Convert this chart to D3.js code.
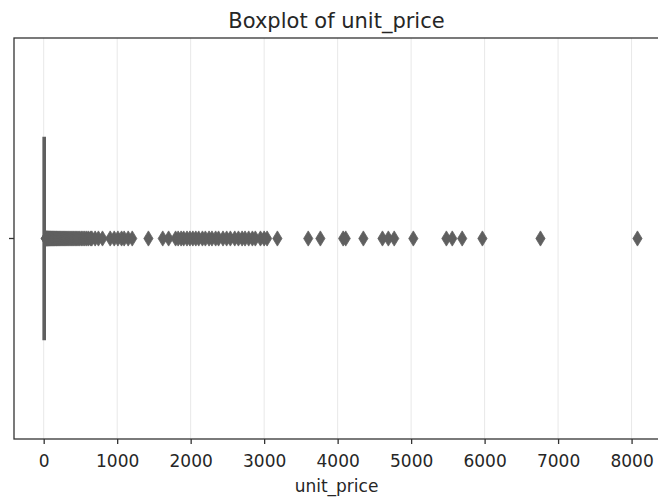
<!DOCTYPE html>
<html>
<head>
<meta charset="utf-8">
<script src="https://cdn.jsdelivr.net/npm/d3@7"></script>
<style>
  html, body { margin: 0; padding: 0; background: #ffffff; }
  svg { display: block; font-family: "DejaVu Sans", sans-serif; }
</style>
</head>
<body>
<svg id="chart" width="658" height="500"></svg>
<script>
// Single category on the y axis (no visible label)
const categories = [""];

// Box statistics of unit_price
const boxStats = { whiskerLow: 0.5, q1: 2.5, median: 4.5, q3: 11, whiskerHigh: 24 };

// Outliers beyond the upper whisker
const outliers = [
  28, 31, 35, 38, 42, 46, 50, 55, 60, 66, 72, 79, 85, 92, 99, 108, 115, 124, 132, 140,
  150, 160, 171, 180, 192, 205, 218, 230, 245, 260, 275, 290, 305, 322, 340, 358, 375,
  395, 412, 430, 450, 468, 490, 512, 535, 560, 585, 610, 640, 655,
  700, 745, 800, 905, 960, 1010, 1060, 1095, 1150, 1205,
  1425, 1620, 1700,
  1795, 1830, 1870, 1905, 1950, 1990, 2030, 2070, 2110, 2160, 2200, 2250, 2290, 2340,
  2380, 2440, 2490, 2540, 2600, 2650, 2700, 2740, 2790, 2840, 2880, 2950, 3000, 3040,
  3180, 3600, 3765, 4075, 4110, 4350, 4610, 4690, 4770, 5030,
  5480, 5560, 5695, 5970, 6760, 8080
];

// X axis ticks
const xTicks = [0, 1000, 2000, 3000, 4000, 5000, 6000, 7000, 8000];

const svg = d3.select("#chart");
const plotLeft = 14, plotRight = 667, plotTop = 38, plotBottom = 439;

const x = d3.scaleLinear().domain([-404, 8482]).range([plotLeft, plotRight]);
const y = d3.scaleBand().domain(categories).range([plotTop, plotBottom]).padding(0);

const boxColor = "#5f5f5f";
const textColor = "#262626";

svg.append("rect").attr("width", 658).attr("height", 500).attr("fill", "#ffffff");

// Vertical grid lines
svg.append("g")
  .selectAll("line")
  .data(xTicks)
  .join("line")
  .attr("x1", d => x(d)).attr("x2", d => x(d))
  .attr("y1", plotTop).attr("y2", plotBottom)
  .attr("stroke", "#e8e8e8")
  .attr("stroke-width", 1);

// Box plot
const g = svg.append("g");
categories.forEach(c => {
  const cy = y(c) + y.bandwidth() / 2;
  const h = y.bandwidth() * 0.5;
  // whiskers
  g.append("line")
    .attr("x1", x(boxStats.whiskerLow)).attr("x2", x(boxStats.q1))
    .attr("y1", cy).attr("y2", cy)
    .attr("stroke", boxColor).attr("stroke-width", 2);
  g.append("line")
    .attr("x1", x(boxStats.q3)).attr("x2", x(boxStats.whiskerHigh))
    .attr("y1", cy).attr("y2", cy)
    .attr("stroke", boxColor).attr("stroke-width", 2);
  // box
  g.append("rect")
    .attr("x", x(boxStats.q1))
    .attr("width", Math.max(0, x(boxStats.q3) - x(boxStats.q1)))
    .attr("y", cy - h / 2).attr("height", h)
    .attr("fill", "#808080")
    .attr("stroke", boxColor).attr("stroke-width", 3);
  // median
  g.append("line")
    .attr("x1", x(boxStats.median)).attr("x2", x(boxStats.median))
    .attr("y1", cy - h / 2).attr("y2", cy + h / 2)
    .attr("stroke", boxColor).attr("stroke-width", 2);

  // outlier diamonds
  const dw = 4.6, dh = 7.6;
  g.append("g")
    .selectAll("path")
    .data(outliers)
    .join("path")
    .attr("d", d => {
      const px = x(d);
      return `M${px},${cy - dh}L${px + dw},${cy}L${px},${cy + dh}L${px - dw},${cy}Z`;
    })
    .attr("fill", boxColor)
    .attr("stroke", boxColor)
    .attr("stroke-width", 0.8);
});

// Frame
svg.append("rect")
  .attr("x", plotLeft).attr("y", plotTop)
  .attr("width", plotRight - plotLeft).attr("height", plotBottom - plotTop)
  .attr("fill", "none")
  .attr("stroke", "#333333")
  .attr("stroke-width", 1.3);

// X axis
const xAxis = svg.append("g")
  .attr("transform", `translate(0,${plotBottom})`)
  .call(d3.axisBottom(x).tickValues(xTicks).tickSize(5).tickPadding(11).tickFormat(d3.format("d")));
xAxis.select(".domain").remove();
xAxis.selectAll(".tick line").attr("stroke", "#333333").attr("stroke-width", 1.3);
xAxis.selectAll(".tick text")
  .attr("fill", textColor)
  .style("font-size", "17px")
  .style("font-family", "DejaVu Sans, sans-serif");

// Y axis (single unlabeled tick)
const yAxis = svg.append("g")
  .attr("transform", `translate(${plotLeft},0)`)
  .call(d3.axisLeft(y).tickSize(5).tickFormat(""));
yAxis.select(".domain").remove();
yAxis.selectAll(".tick line").attr("stroke", "#333333").attr("stroke-width", 1.3);

// Title
svg.append("text")
  .attr("x", (plotLeft + plotRight) / 2 - 4)
  .attr("y", 28)
  .attr("text-anchor", "middle")
  .attr("fill", textColor)
  .style("font-size", "21px")
  .text("Boxplot of unit_price");

// X axis label
svg.append("text")
  .attr("x", (plotLeft + plotRight) / 2 - 4)
  .attr("y", 492)
  .attr("text-anchor", "middle")
  .attr("fill", textColor)
  .style("font-size", "17px")
  .text("unit_price");
</script>
</body>
</html>
